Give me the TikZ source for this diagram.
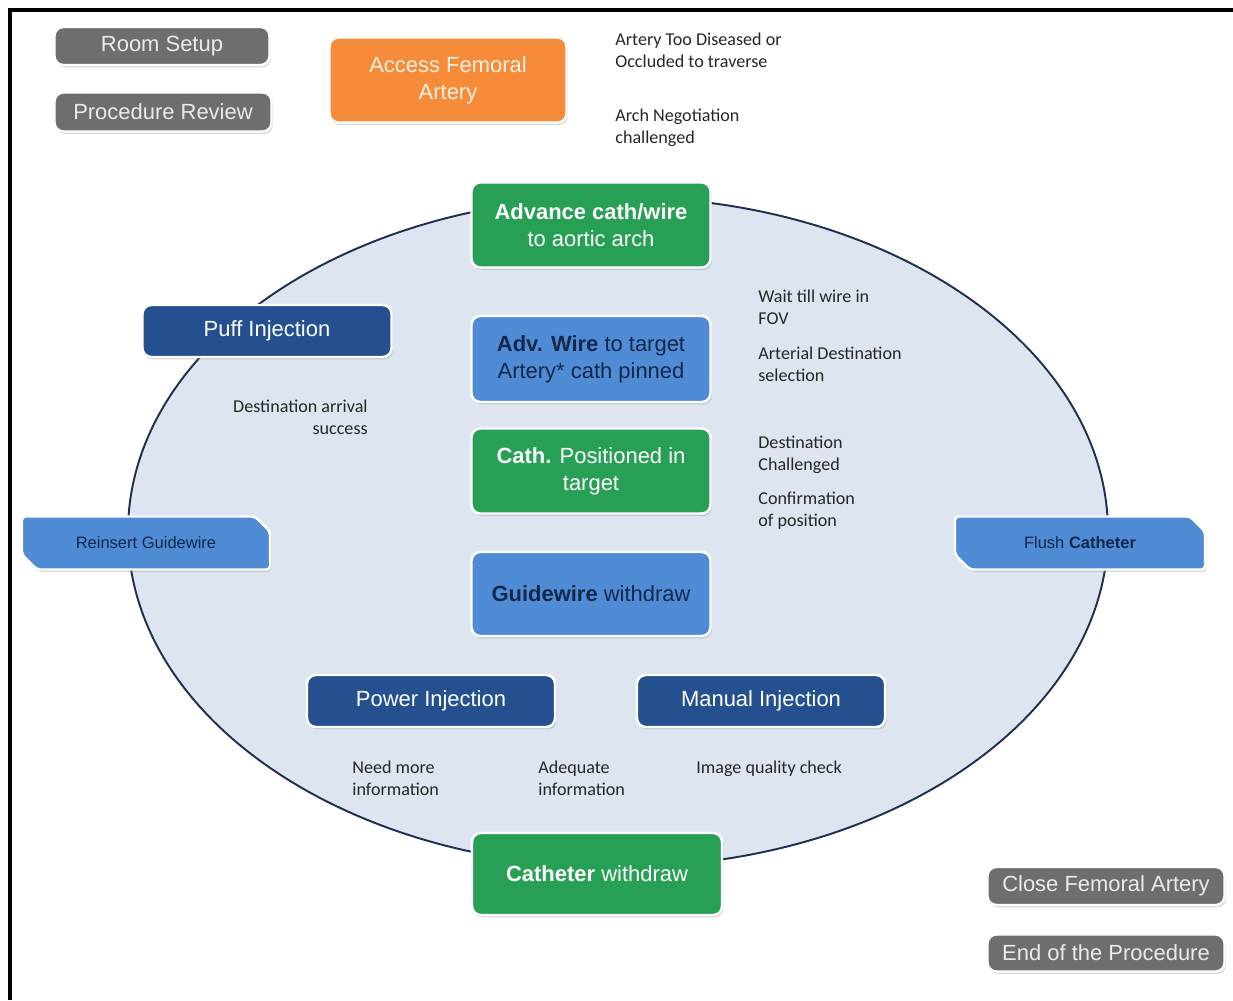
\documentclass[tikz,border=0pt]{standalone}
\usepackage{fontspec}
\setmainfont{Liberation Sans}
\newfontfamily\notefont{Carlito}
\usetikzlibrary{shapes.misc,shadows}

\definecolor{boxgray}{HTML}{6E6E6E}
\definecolor{boxorange}{HTML}{F68B3A}
\definecolor{boxgreen}{HTML}{27A056}
\definecolor{boxblue}{HTML}{508BD6}
\definecolor{boxnavy}{HTML}{24508F}
\definecolor{textnavy}{HTML}{13284A}
\definecolor{notetext}{HTML}{262626}
\definecolor{loopfill}{HTML}{DDE6F0}
\definecolor{loopline}{HTML}{1E2F4F}

\begin{document}
\begin{tikzpicture}[x=0.02cm, y=-0.02cm,
  box/.style={rounded corners=5pt, draw=white, line width=1.4pt, align=center, inner sep=2pt,
    drop shadow={shadow xshift=0.8pt, shadow yshift=-1.4pt, opacity=0.3},
    font=\fontsize{12.5}{15.3}\selectfont},
  sz/.style 2 args={minimum width=#1*0.02cm, minimum height=#2*0.02cm},
  graybox/.style={box, fill=boxgray, text=white!92!black},
  greenbox/.style={box, fill=boxgreen, text=white},
  bluebox/.style={box, fill=boxblue, text=textnavy},
  navybox/.style={box, fill=boxnavy, text=white},
  snipbox/.style={box, fill=boxblue, text=textnavy, rounded corners=2pt,
    chamfered rectangle, chamfered rectangle corners={north east,south west},
    chamfered rectangle xsep=5pt, font=\fontsize{9.4}{11}\selectfont},
  note/.style={font=\notefont\fontsize{10.3}{12.5}\selectfont, text=notetext,
    align=left, inner sep=0, anchor=north west},
]
  \useasboundingbox (0,0) rectangle (1233,1000);

  % --- 椭圆 (循环) ---
  \draw[fill=loopfill, draw=loopline, line width=1.1pt]
    (618,532) ellipse [x radius=490, y radius=335];

  % --- 开始 / 结束 ---
  \node[graybox, sz={215}{38}] (room) at (162,46) {Room Setup};
  \node[graybox, sz={217}{39}] (review) at (163,112) {Procedure Review};
  \node[box, fill=boxorange, text=white!90!orange, sz={237}{85}] (access) at (448,80)
    {Access Femoral\\Artery};
  \node[graybox, sz={237}{38}] (close) at (1106,886) {Close Femoral Artery};
  \node[graybox, sz={237}{37}] (endproc) at (1106,953) {End of the Procedure};

  % --- 中间一列 ---
  \node[greenbox, sz={239}{85}] (advance) at (591,225)
    {\textbf{Advance cath/wire}\\to aortic arch};
  \node[bluebox, sz={239}{86}] (wire) at (591,359)
    {\textbf{Adv. Wire} to target\\Artery* cath pinned};
  \node[greenbox, sz={239}{85}] (cathpos) at (591,471)
    {\textbf{Cath.} Positioned in\\target};
  \node[bluebox, sz={239}{84}] (guidewd) at (591,594) {\textbf{Guidewire} withdraw};
  \node[greenbox, sz={250}{82}] (cathwd) at (597,874) {\textbf{Catheter} withdraw};

  % --- 注射 ---
  \node[navybox, sz={249}{52}] (puff) at (267,331) {Puff Injection};
  \node[navybox, sz={248}{52}] (power) at (431,701) {Power Injection};
  \node[navybox, sz={248}{52}] (manual) at (761,701) {Manual Injection};

  % --- 两侧 ---
  \node[snipbox, sz={248}{53}] (reinsert) at (146,543) {Reinsert Guidewire};
  \node[snipbox, sz={250}{53}] (flush) at (1080,543) {Flush \textbf{Catheter}};

  % --- 说明文字 ---
  \node[note] (diseased) at (615,33) {Artery Too Diseased or\\Occluded to traverse};
  \node[note] (arch) at (615,109) {Arch Negotiation\\challenged};
  \node[note] (fov) at (758,290) {Wait till wire in\\FOV};
  \node[note] (select) at (758,347) {Arterial Destination\\selection};
  \node[note, align=right, anchor=north east] (arrival) at (368,400)
    {Destination arrival\\success};
  \node[note] (challenged) at (758,436) {Destination\\Challenged};
  \node[note] (confirm) at (758,492) {Confirmation\\of position};
  \node[note] (needmore) at (352,761) {Need more\\information};
  \node[note] (adequate) at (538,761) {Adequate\\information};
  \node[note] (quality) at (696,761) {Image quality check};

  % 外框
  \draw[line width=1.8pt] (10,1000) -- (10,10) -- (1233,10);
\end{tikzpicture}
\end{document}
